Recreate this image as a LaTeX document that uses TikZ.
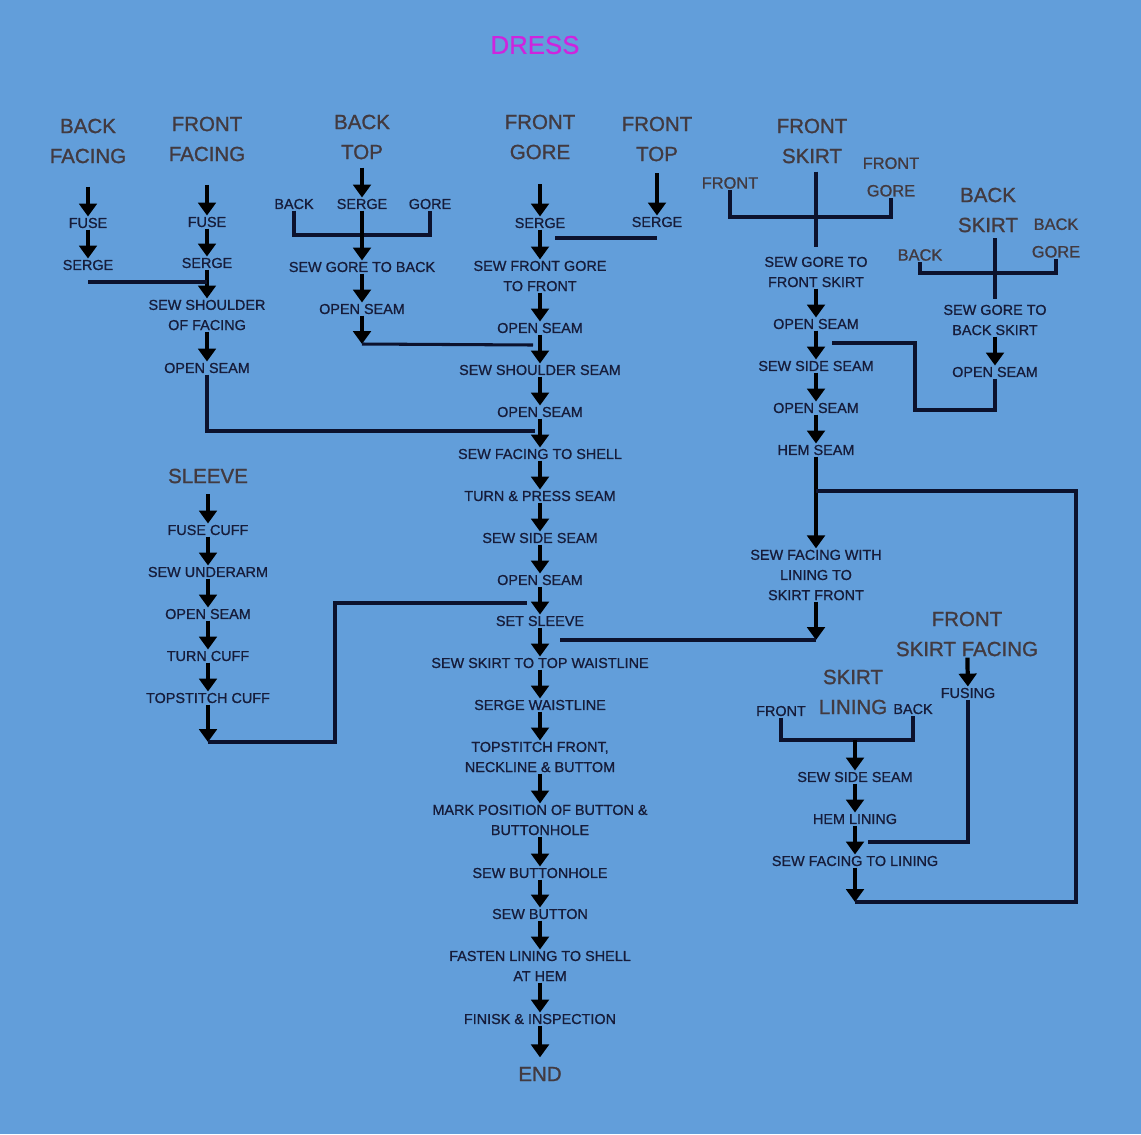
\documentclass[tikz,border=0pt]{standalone}
\usepackage{fontspec}
\setmainfont{Liberation Sans}
\usepackage{tikz}
\usetikzlibrary{arrows.meta}
\definecolor{bgblue}{RGB}{98,158,218}
\definecolor{inkblue}{RGB}{22,28,58}
\definecolor{inkline}{RGB}{12,18,45}
\definecolor{headgrey}{RGB}{66,58,64}
\definecolor{dressmag}{RGB}{206,36,222}

\tikzset{
  op/.style={font=\fontsize{12.3}{17.2}\selectfont\addfontfeature{FakeBold=0.9}, text=inkblue, align=center, inner sep=1pt},
  part/.style={font=\fontsize{17.5}{25.6}\selectfont\addfontfeature{FakeBold=1.2}, text=headgrey, align=center, inner sep=1pt},
  side/.style={font=\fontsize{14}{23.5}\selectfont\addfontfeature{FakeBold=1}, text=headgrey, align=center, inner sep=1pt},
  arr/.style={-{Triangle[width=15pt,length=11pt]}, line width=3.6pt, black},
  link/.style={line width=2.6pt, draw=inkline},
}

\begin{document}
\begin{tikzpicture}[x=0.03cm, y=-0.03cm]
  \fill[bgblue] (0,0) rectangle (1141,1134);
  \useasboundingbox (0,0) rectangle (1141,1134);

  \node[font=\fontsize{22}{26}\selectfont\addfontfeature{FakeBold=0.6}, text=dressmag, inner sep=1pt]
        (dress) at (535,45) {DRESS};

  % back facing
  \node[part] (bfacing) at (88,141) {BACK\\FACING};
  \node[op] (fuseA) at (88,223) {FUSE};
  \node[op] (sergeA) at (88,265) {SERGE};
  \draw[arr, shorten <=19pt] (bfacing) -- (fuseA);
  \draw[arr] (fuseA) -- (sergeA);

  % front facing
  \node[part] (ffacing) at (207,139) {FRONT\\FACING};
  \node[op] (fuseB) at (207,222) {FUSE};
  \node[op] (sergeB) at (207,263) {SERGE};
  \node[op] (shoulderF) at (207,315) {SEW SHOULDER\\OF FACING};
  \node[op] (openF) at (207,368) {OPEN SEAM};
  \draw[arr, shorten <=19pt] (ffacing) -- (fuseB);
  \draw[arr] (fuseB) -- (sergeB);
  \draw[arr] (sergeB) -- (shoulderF);
  \draw[arr] (shoulderF) -- (openF);
  \coordinate (jA) at (207,282);
  \draw[link] (sergeA |- jA) -- (jA);

  % back top
  \node[part] (btop) at (362,137) {BACK\\TOP};
  \node[op] (sergeC) at (362,204) {SERGE};
  \node[op] (tagBack) at (294,204) {BACK};
  \node[op] (tagGore) at (430,204) {GORE};
  \node[op] (goreBack) at (362,267) {SEW GORE TO BACK};
  \node[op] (openC) at (362,309) {OPEN SEAM};
  \coordinate (jBr) at (362,235);
  \coordinate (cEnd) at (362,344);
  \draw[link] (tagBack.south) |- (jBr) -| (tagGore.south);
  \draw[arr, shorten <=6pt] (btop) -- (sergeC);
  \draw[arr] (sergeC) -- (goreBack);
  \draw[arr] (goreBack) -- (openC);
  \draw[arr] (openC) -- (cEnd);

  % main column
  \node[part] (fgore) at (540,137) {FRONT\\GORE};
  \foreach \n/\y/\t in {1/223/SERGE, 2/276/{SEW FRONT GORE\\TO FRONT}, 3/328/OPEN SEAM,
      4/370/SEW SHOULDER SEAM, 5/412/OPEN SEAM, 6/454/SEW FACING TO SHELL,
      7/496/TURN \& PRESS SEAM, 8/538/SEW SIDE SEAM, 9/580/OPEN SEAM, 10/621/SET SLEEVE,
      11/663/SEW SKIRT TO TOP WAISTLINE, 12/705/SERGE WAISTLINE,
      13/757/{TOPSTITCH FRONT,\\NECKLINE \& BUTTOM}, 14/820/{MARK POSITION OF BUTTON \&\\BUTTONHOLE},
      15/873/SEW BUTTONHOLE, 16/914/SEW BUTTON, 17/966/{FASTEN LINING TO SHELL\\AT HEM},
      18/1019/FINISK \& INSPECTION}
    \node[op] (m\n) at (540,\y) {\t};
  \node[part] (theend) at (540,1074) {END};
  \draw[arr, shorten <=20pt] (fgore) -- (m1);
  \foreach \i in {2,...,18}{
    \pgfmathtruncatemacro{\j}{\i-1}
    \draw[arr] (m\j) -- (m\i);
  }
  \draw[arr, shorten >=7pt] (m18) -- (theend);

  % front top
  \node[part] (ftop) at (657,139) {FRONT\\TOP};
  \node[op] (sergeT) at (657,222) {SERGE};
  \draw[arr, shorten <=9pt] (ftop) -- (sergeT);
  \coordinate (jT) at (555,238);
  \draw[link] (sergeT |- jT) -- (jT);

  % joins into main column
  \coordinate (jB) at (535,431);
  \coordinate (jC) at (533,345);
  \draw[link] (openF.south) |- (jB);
  \draw[link] (cEnd) -- (jC);

  % sleeve
  \node[part] (sleeve) at (208,476) {SLEEVE};
  \node[op] (cuffA) at (208,530) {FUSE CUFF};
  \node[op] (cuffB) at (208,572) {SEW UNDERARM};
  \node[op] (cuffC) at (208,614) {OPEN SEAM};
  \node[op] (cuffD) at (208,656) {TURN CUFF};
  \node[op] (cuffE) at (208,698) {TOPSTITCH CUFF};
  \coordinate (sEnd) at (208,742);
  \coordinate (sCorner) at (335,742);
  \coordinate (jS) at (527,603);
  \draw[arr, shorten <=8pt] (sleeve) -- (cuffA);
  \draw[arr] (cuffA) -- (cuffB);
  \draw[arr] (cuffB) -- (cuffC);
  \draw[arr] (cuffC) -- (cuffD);
  \draw[arr] (cuffD) -- (cuffE);
  \draw[arr] (cuffE) -- (sEnd);
  \draw[link] (sEnd) -- (sCorner) |- (jS);

  % front skirt
  \node[part] (fskirt) at (812,141) {FRONT\\SKIRT};
  \node[side] (tagFront) at (730,183) {FRONT};
  \node[side] (tagFGore) at (891,177) {FRONT\\GORE};
  \node[op] (goreF) at (816,272) {SEW GORE TO\\FRONT SKIRT};
  \node[op] (k1) at (816,324) {OPEN SEAM};
  \node[op] (k2) at (816,366) {SEW SIDE SEAM};
  \node[op] (k3) at (816,408) {OPEN SEAM};
  \node[op] (k4) at (816,450) {HEM SEAM};
  \node[op] (k5) at (816,575) {SEW FACING WITH\\LINING TO\\SKIRT FRONT};
  \coordinate (jFS) at (816,217);
  \coordinate (kEnd) at (816,640);
  \coordinate (jK) at (560,640);
  \draw[link, shorten <=6pt, shorten >=7pt] (fskirt.south -| goreF.north) -- (goreF);
  \draw[link] (tagFront.south) |- (jFS) -| (tagFGore.south);
  \draw[arr] (goreF) -- (k1);
  \draw[arr] (k1) -- (k2);
  \draw[arr] (k2) -- (k3);
  \draw[arr] (k3) -- (k4);
  \draw[arr] (k4) -- (k5);
  \draw[arr] (k5) -- (kEnd);
  \draw[link] (kEnd) -- (jK);

  % back skirt
  \node[part] (bskirt) at (988,210) {BACK\\SKIRT};
  \node[side] (tagB) at (920,255) {BACK};
  \node[side] (tagBGore) at (1056,238) {BACK\\GORE};
  \node[op] (goreB) at (995,320) {SEW GORE TO\\BACK SKIRT};
  \node[op] (openB) at (995,372) {OPEN SEAM};
  \coordinate (jBS) at (995,273);
  \coordinate (bCorner) at (915,410);
  \coordinate (jSS) at (832,343);
  \draw[link, shorten <=4pt, shorten >=4pt] (bskirt.south -| goreB.north) -- (goreB);
  \draw[link] (tagB.south) |- (jBS) -| (tagBGore.south);
  \draw[arr] (goreB) -- (openB);
  \draw[link] (openB.south) |- (bCorner) |- (jSS);

  % skirt lining
  \node[part] (lining) at (853,692) {SKIRT\\LINING};
  \node[op] (tagLF) at (781,711) {FRONT};
  \node[op] (tagLB) at (913,709) {BACK};
  \node[op] (l1) at (855,777) {SEW SIDE SEAM};
  \node[op] (l2) at (855,819) {HEM LINING};
  \node[op] (l3) at (855,861) {SEW FACING TO LINING};
  \coordinate (jL) at (855,740);
  \coordinate (lEnd) at (855,902);
  \draw[link] (tagLF.south) |- (jL) -| (tagLB.south);
  \draw[arr] (jL) -- (l1);
  \draw[arr] (l1) -- (l2);
  \draw[arr] (l2) -- (l3);
  \draw[arr] (l3) -- (lEnd);

  % front skirt facing
  \node[part] (sfacing) at (967,634) {FRONT\\SKIRT FACING};
  \node[op] (fusing) at (968,693) {FUSING};
  \coordinate (jF) at (868,842);
  \draw[arr] (sfacing) -- (fusing);
  \draw[link] (fusing.south) |- (jF);

  % hem seam loop down to lining
  \coordinate (jH) at (816,491);
  \coordinate (rCorner) at (1076,902);
  \draw[link] (jH) -| (rCorner) -- (lEnd);
\end{tikzpicture}
\end{document}
